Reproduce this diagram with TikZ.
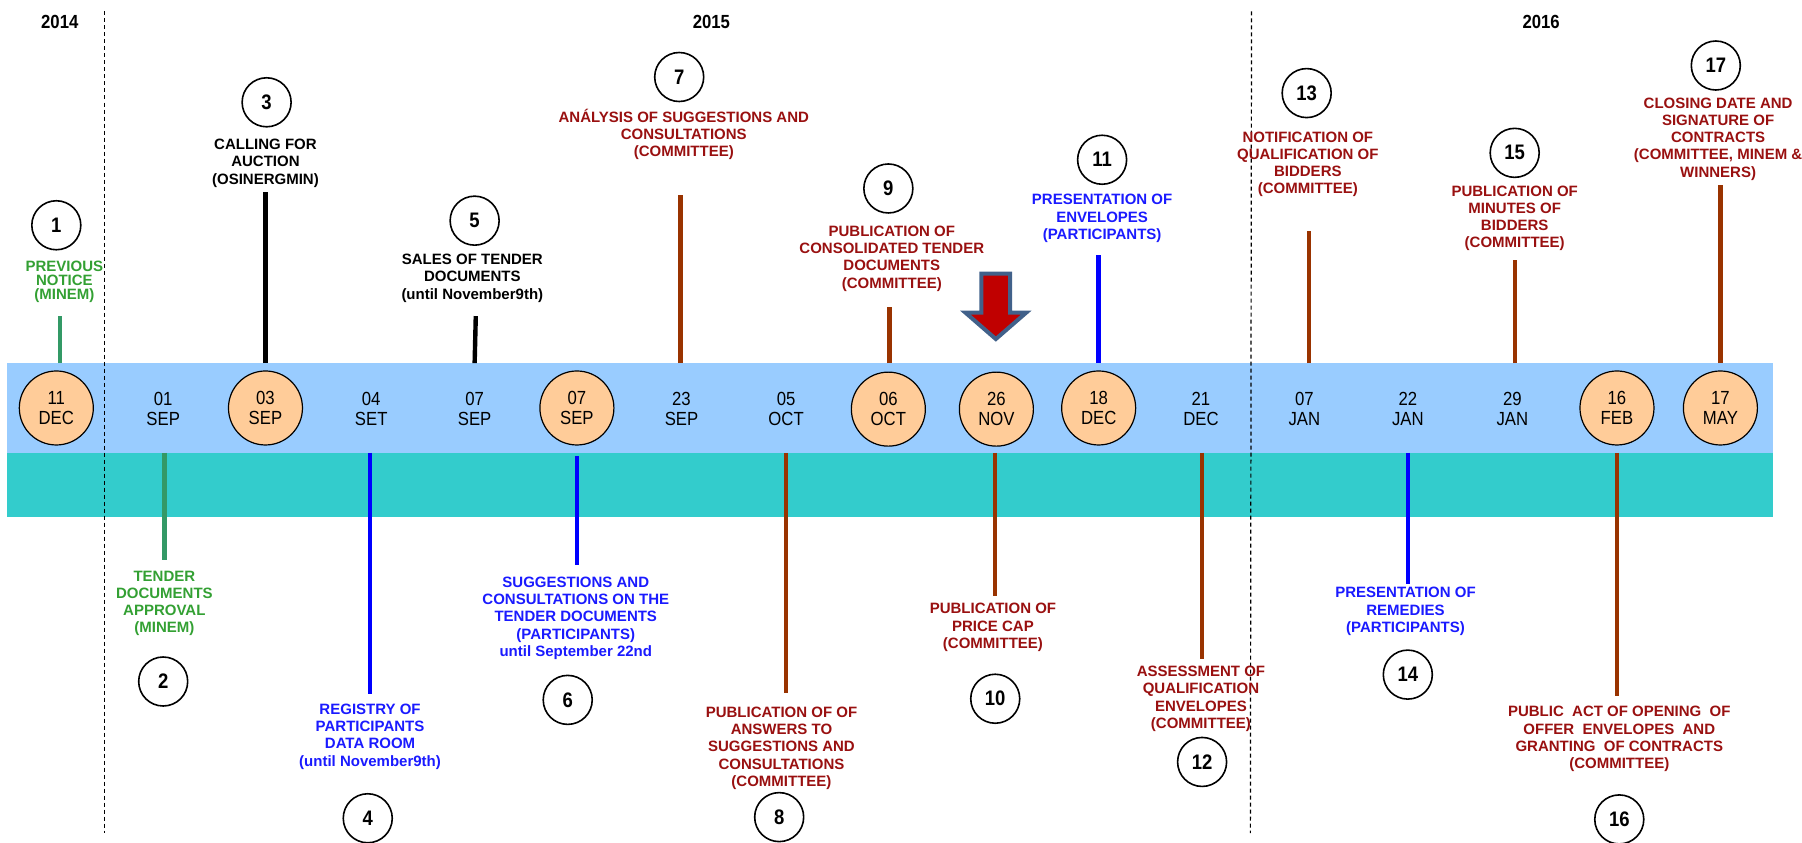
\documentclass[tikz,border=0pt]{standalone}
\usepackage{fontspec}
\setmainfont{Liberation Sans}
\newfontfamily\narrowfont[FakeStretch=0.88]{Liberation Sans}

\definecolor{bandblue}{HTML}{99CCFF}
\definecolor{bandteal}{HTML}{33CCCC}
\definecolor{datefill}{HTML}{FFCC99}
\definecolor{stembrown}{HTML}{993300}
\definecolor{stemgreen}{HTML}{339966}
\definecolor{stemblue}{HTML}{0000FF}
\definecolor{txtgreen}{HTML}{33A033}
\definecolor{txtred}{HTML}{991010}
\definecolor{txtblue}{HTML}{1A1AFF}
\definecolor{arrowred}{HTML}{C00000}
\definecolor{arrowedge}{HTML}{41618A}

\begin{document}
\begin{tikzpicture}[x=0.5746pt,y=-0.5746pt,
  datecirc/.style={circle,draw,line width=0.6pt,fill=datefill,minimum size=37pt,inner sep=0pt,align=center,font=\narrowfont\fontsize{9.5}{10}\selectfont},
  dateplain/.style={inner sep=0pt,align=center,font=\narrowfont\fontsize{9.5}{10}\selectfont},
  numcirc/.style={circle,draw,line width=0.8pt,fill=white,minimum size=24.5pt,inner sep=0pt,font=\narrowfont\bfseries\fontsize{10.5}{12}\selectfont},
  evlabel/.style={inner sep=0pt,align=center,font=\bfseries\fontsize{7.5}{8.6}\selectfont},
  stem/.style={line width=2.2pt},
  yearlbl/.style={font=\narrowfont\bfseries\fontsize{9.5}{11}\selectfont},
  yearsep/.style={line width=0.6pt,dash pattern=on 2pt off 1.5pt}]
  \useasboundingbox (0,0) rectangle (1568,733);
  %%
  % Bands
  \fill[bandblue] (6,316) rectangle (1543,394);
  \fill[bandteal] (6,394) rectangle (1543,450);
  % Year separators
  \draw[yearsep] (91,10) -- (91,725);
  \draw[yearsep] (1089,10) -- (1088,725);
  % Years
  \node[yearlbl] (y2014) at (52,19) {2014};
  \node[yearlbl] (y2015) at (619,19) {2015};
  \node[yearlbl] (y2016) at (1341,19) {2016};
  %%
  % Event: 1
  \node[datecirc] (d1) at (49,355) {11\\DEC};
  \coordinate (b1) at (52,316);
  \coordinate (s1) at (52,275);
  \draw[stem,stemgreen] (b1) -- (s1);
  \node[evlabel,txtgreen,font=\bfseries\fontsize{7.5}{7}\selectfont] (l1) at (56,245) {PREVIOUS\\NOTICE\\(MINEM)};
  \node[numcirc] (n1) at (49,196) {1};
  % Event: 2
  \node[dateplain] (d2) at (142,356) {01\\SEP};
  \coordinate (b2) at (143,394);
  \coordinate (s2) at (143,487);
  \draw[stem,stemgreen] (b2) -- (s2);
  \node[evlabel,txtgreen] (l2) at (143,525) {TENDER\\DOCUMENTS\\APPROVAL\\(MINEM)};
  \node[numcirc] (n2) at (142,593) {2};
  % Event: 3
  \node[datecirc] (d3) at (231,355) {03\\SEP};
  \coordinate (b3) at (231,316);
  \coordinate (s3) at (231,167);
  \draw[stem,black] (b3) -- (s3);
  \node[evlabel,black] (l3) at (231,142) {CALLING FOR\\AUCTION\\(OSINERGMIN)};
  \node[numcirc] (n3) at (232,89) {3};
  % Event: 4
  \node[dateplain] (d4) at (323,356) {04\\SET};
  \coordinate (b4) at (322,394);
  \coordinate (s4) at (322,604);
  \draw[stem,stemblue] (b4) -- (s4);
  \node[evlabel,txtblue] (l4) at (322,641) {REGISTRY OF\\PARTICIPANTS\\DATA ROOM\\(until November9th)};
  \node[numcirc] (n4) at (320,712) {4};
  % Event: 5
  \node[dateplain] (d5) at (413,356) {07\\SEP};
  \coordinate (b5) at (413,316);
  \coordinate (s5) at (414,275);
  \draw[stem,black] (b5) -- (s5);
  \node[evlabel,black] (l5) at (411,242) {SALES OF TENDER\\DOCUMENTS\\(until November9th)};
  \node[numcirc] (n5) at (413,192) {5};
  % Event: 6
  \node[datecirc] (d6) at (502,355) {07\\SEP};
  \coordinate (b6) at (502,397);
  \coordinate (s6) at (502,492);
  \draw[stem,stemblue] (b6) -- (s6);
  \node[evlabel,txtblue] (l6) at (501,538) {SUGGESTIONS AND\\CONSULTATIONS ON THE\\TENDER DOCUMENTS\\(PARTICIPANTS)\\until September 22nd};
  \node[numcirc] (n6) at (494,609) {6};
  % Event: 7
  \node[dateplain] (d7) at (593,356) {23\\SEP};
  \coordinate (b7) at (592,316);
  \coordinate (s7) at (592,170);
  \draw[stem,stembrown] (b7) -- (s7);
  \node[evlabel,txtred] (l7) at (595,117) {ANÁLYSIS OF SUGGESTIONS AND\\CONSULTATIONS\\(COMMITTEE)};
  \node[numcirc] (n7) at (591,67) {7};
  % Event: 8
  \node[dateplain] (d8) at (684,356) {05\\OCT};
  \coordinate (b8) at (684,394);
  \coordinate (s8) at (684,603);
  \draw[stem,stembrown] (b8) -- (s8);
  \node[evlabel,txtred] (l8) at (680,651) {PUBLICATION OF OF\\ANSWERS TO\\SUGGESTIONS AND\\CONSULTATIONS\\(COMMITTEE)};
  \node[numcirc] (n8) at (678,711) {8};
  % Event: 9
  \node[datecirc] (d9) at (773,356) {06\\OCT};
  \coordinate (b9) at (774,316);
  \coordinate (s9) at (774,267);
  \draw[stem,stembrown] (b9) -- (s9);
  \node[evlabel,txtred] (l9) at (776,225) {PUBLICATION OF\\CONSOLIDATED TENDER\\DOCUMENTS\\(COMMITTEE)};
  \node[numcirc] (n9) at (773,164) {9};
  % Event: 10
  \node[datecirc] (d10) at (867,356) {26\\NOV};
  \coordinate (b10) at (866,394);
  \coordinate (s10) at (866,519);
  \draw[stem,stembrown] (b10) -- (s10);
  \node[evlabel,txtred] (l10) at (864,546) {PUBLICATION OF\\PRICE CAP\\(COMMITTEE)};
  \node[numcirc] (n10) at (866,608) {10};
  % Marker over event 10
  \draw[line width=2pt,draw=arrowedge,fill=arrowred,line join=miter]
    (854,238) -- (879,238) -- (879,272) -- (893,272) -- (866.5,295) -- (840,272) -- (854,272) -- cycle;
  % Event: 11
  \node[datecirc] (d11) at (956,355) {18\\DEC};
  \coordinate (b11) at (956,316);
  \coordinate (s11) at (956,222);
  \draw[stem,stemblue] (b11) -- (s11);
  \node[evlabel,txtblue] (l11) at (959,190) {PRESENTATION OF\\ENVELOPES\\(PARTICIPANTS)};
  \node[numcirc] (n11) at (959,139) {11};
  % Event: 12
  \node[dateplain] (d12) at (1045,356) {21\\DEC};
  \coordinate (b12) at (1046,394);
  \coordinate (s12) at (1046,573);
  \draw[stem,stembrown] (b12) -- (s12);
  \node[evlabel,txtred] (l12) at (1045,608) {ASSESSMENT OF\\QUALIFICATION\\ENVELOPES\\(COMMITTEE)};
  \node[numcirc] (n12) at (1046,663) {12};
  % Event: 13
  \node[dateplain] (d13) at (1135,356) {07\\JAN};
  \coordinate (b13) at (1139,316);
  \coordinate (s13) at (1139,201);
  \draw[stem,stembrown] (b13) -- (s13);
  \node[evlabel,txtred] (l13) at (1138,143) {NOTIFICATION OF\\QUALIFICATION OF\\BIDDERS\\(COMMITTEE)};
  \node[numcirc] (n13) at (1137,81) {13};
  % Event: 14
  \node[dateplain] (d14) at (1225,356) {22\\JAN};
  \coordinate (b14) at (1225,394);
  \coordinate (s14) at (1225,508);
  \draw[stem,stemblue] (b14) -- (s14);
  \node[evlabel,txtblue] (l14) at (1223,532) {PRESENTATION OF\\REMEDIES\\(PARTICIPANTS)};
  \node[numcirc] (n14) at (1225,587) {14};
  % Event: 15
  \node[dateplain] (d15) at (1316,356) {29\\JAN};
  \coordinate (b15) at (1318,316);
  \coordinate (s15) at (1318,226);
  \draw[stem,stembrown] (b15) -- (s15);
  \node[evlabel,txtred] (l15) at (1318,190) {PUBLICATION OF\\MINUTES OF\\BIDDERS\\(COMMITTEE)};
  \node[numcirc] (n15) at (1318,133) {15};
  % Event: 16
  \node[datecirc] (d16) at (1407,355) {16\\FEB};
  \coordinate (b16) at (1407,394);
  \coordinate (s16) at (1407,606);
  \draw[stem,stembrown] (b16) -- (s16);
  \node[evlabel,txtred] (l16) at (1409,643) {PUBLIC~ ACT OF OPENING~ OF\\OFFER~ ENVELOPES~ AND\\GRANTING~ OF CONTRACTS\\(COMMITTEE)};
  \node[numcirc] (n16) at (1409,713) {16};
  % Event: 17
  \node[datecirc] (d17) at (1497,355) {17\\MAY};
  \coordinate (b17) at (1497,316);
  \coordinate (s17) at (1497,161);
  \draw[stem,stembrown] (b17) -- (s17);
  \node[evlabel,txtred] (l17) at (1495,121) {CLOSING DATE AND\\SIGNATURE OF\\CONTRACTS\\(COMMITTEE, MINEM \&\\WINNERS)};
  \node[numcirc] (n17) at (1493,57) {17};
  %
\end{tikzpicture}
\end{document}
